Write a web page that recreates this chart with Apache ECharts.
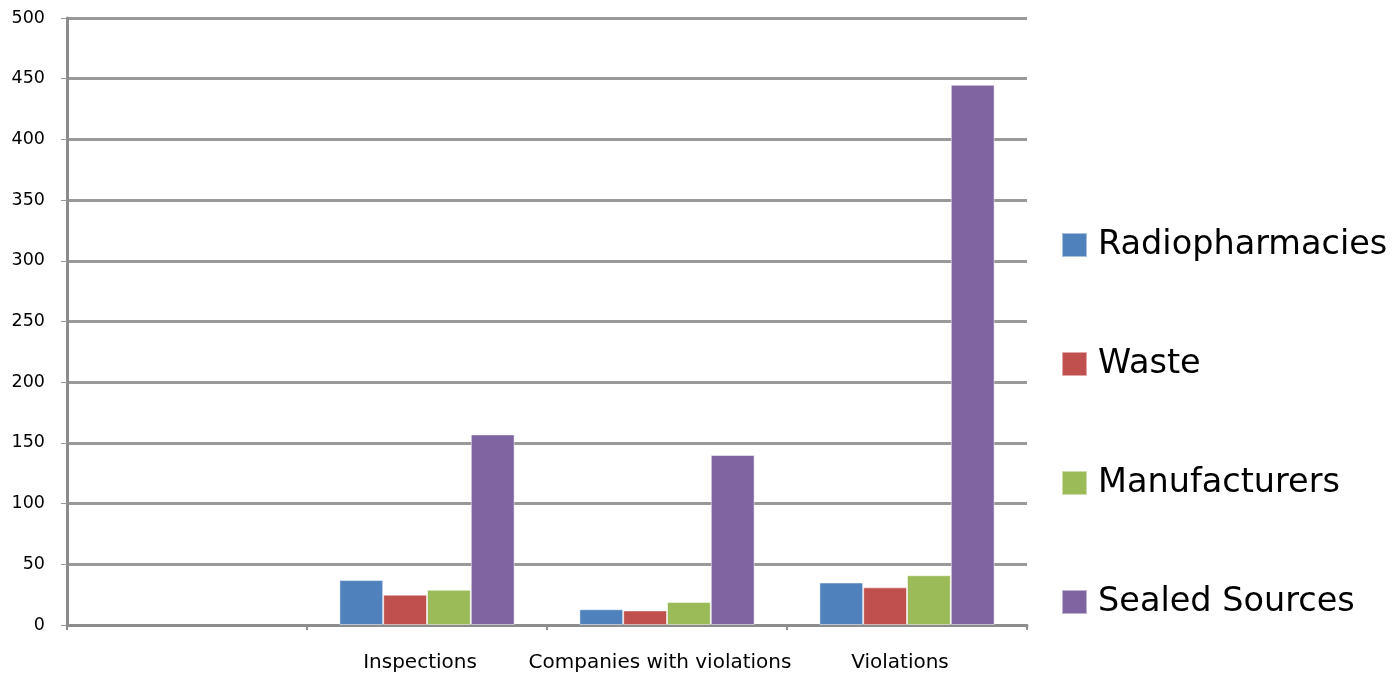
<!DOCTYPE html>
<html><head><meta charset="utf-8">
<script src="https://cdn.jsdelivr.net/npm/echarts@6/dist/echarts.min.js"></script>
<style>html,body{margin:0;padding:0;background:#fff}#c{width:1399px;height:676px}</style>
</head><body><div id="c"></div>
<script>
var categories = ["", "Inspections", "Companies with violations", "Violations"];
var radiopharmacies = [null, 37, 13, 35];
var waste = [null, 25, 12, 31];
var manufacturers = [null, 29, 19, 41];
var sealedSources = [null, 157, 140, 445];
var yTicks = {min: 0, max: 500, interval: 50};

var chart = echarts.init(document.getElementById('c'));
function s(name, data, color) {
  return {name: name, type: 'bar', data: data, barGap: '0%', barCategoryGap: '27%',
    itemStyle: {color: color, borderColor: 'rgba(255,255,255,0.5)', borderWidth: 1}};
}
chart.setOption({
  animation: false,
  backgroundColor: '#fff',
  grid: {left: 67, right: 372, top: 18, bottom: 51, containLabel: false},
  legend: {
    orient: 'vertical', left: 1056, top: 223, itemWidth: 25, itemHeight: 24, itemGap: 85,
    icon: 'rect',
    textStyle: {fontFamily: 'DejaVu Sans', fontSize: 33.5, color: '#000', padding: [0, 0, 0, 6]},
    data: ['Radiopharmacies', 'Waste', 'Manufacturers', 'Sealed Sources']
  },
  xAxis: {
    type: 'category', data: categories,
    axisLine: {lineStyle: {color: '#8c8c8c', width: 3}},
    axisTick: {show: true, alignWithLabel: false, length: 5, lineStyle: {color: '#8c8c8c', width: 2}},
    axisLabel: {fontFamily: 'DejaVu Sans', fontSize: 20, color: '#000', margin: 28, interval: 0, padding: [0, 14, 0, 0]}
  },
  yAxis: {
    type: 'value', min: yTicks.min, max: yTicks.max, interval: yTicks.interval,
    axisLine: {show: true, lineStyle: {color: '#8c8c8c', width: 3}},
    axisTick: {show: true, length: 6, lineStyle: {color: '#999'}},
    axisLabel: {fontFamily: 'DejaVu Sans', fontSize: 17.5, color: '#000', margin: 22},
    splitLine: {lineStyle: {color: '#999', width: 3}}
  },
  series: [
    s('Radiopharmacies', radiopharmacies, '#4f81bd'),
    s('Waste', waste, '#c0504d'),
    s('Manufacturers', manufacturers, '#9bbb59'),
    s('Sealed Sources', sealedSources, '#8064a2')
  ]
});
</script></body></html>
